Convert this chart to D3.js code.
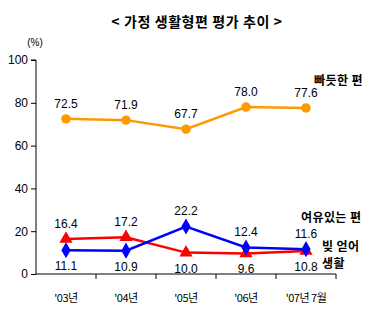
<!DOCTYPE html>
<html><head><meta charset="utf-8">
<script src="https://cdn.jsdelivr.net/npm/d3@7"></script>
<style>body{margin:0;background:#fff}svg{display:block}text{font-family:"Liberation Sans",Arial,sans-serif}</style>
</head><body><svg id="c" width="391" height="322"></svg>
<script>
const categories = ["'03년", "'04년", "'05년", "'06년", "'07년 7월"];
const tight = [72.5, 71.9, 67.7, 78.0, 77.6];      // 빠듯한 편
const spare = [11.1, 10.9, 22.2, 12.4, 11.6];      // 여유있는 편
const debt  = [16.4, 17.2, 10.0, 9.6, 10.8];       // 빚 얻어 생활
const yTicks = [0, 20, 40, 60, 80, 100];

const svg = d3.select("#c");
const x = d3.scaleBand().domain(categories).range([36, 336]);
const y = d3.scaleLinear().domain([0, 100]).range([274, 60]);
const cx = d => x(d) + x.bandwidth() / 2;
const kr = '"Noto Sans CJK KR", sans-serif';

svg.append("text").attr("x", 197).attr("y", 27).attr("text-anchor", "middle")
  .style("font-family", kr).style("font-weight", "bold").style("font-size", "14px")
  .style("letter-spacing", "0.6px")
  .text("< 가정 생활형편 평가 추이 >");
svg.append("text").attr("x", 35).attr("y", 46).attr("text-anchor", "middle")
  .style("font-size", "10px").text("(%)");

// axes
const ya = svg.append("g").attr("transform", "translate(36,0)")
  .call(d3.axisLeft(y).tickValues(yTicks).tickSize(5).tickPadding(3));
ya.select(".domain").attr("d", `M-5,${y(100)}H0V${y(0)}`);
const xa = svg.append("g").attr("transform", `translate(0,${y(0)})`)
  .call(d3.axisBottom(x).tickSize(0).tickFormat(""));
xa.selectAll(".tick").remove();
xa.select(".domain").attr("d", `M36,0H${x.range()[1]}V5`);
svg.append("g").selectAll("line").data(categories.slice(1)).join("line")
  .attr("x1", d => x(d)).attr("x2", d => x(d)).attr("y1", y(0)).attr("y2", y(0) + 5)
  .attr("stroke", "#000");
svg.selectAll(".domain, .tick line").attr("stroke", "#000");
ya.selectAll(".tick text").style("font-size", "12px").attr("fill", "#000");

svg.append("g").selectAll("text").data(categories).join("text")
  .attr("x", cx).attr("y", 302).attr("text-anchor", "middle")
  .style("font-family", kr).style("font-size", "11px").style("letter-spacing", "-0.5px")
  .text(d => d);

const line = d3.line().x((d, i) => cx(categories[i])).y(d => y(d));
function series(vals, color, shape, labelPos) {
  svg.append("path").datum(vals).attr("d", line).attr("fill", "none")
    .attr("stroke", color).attr("stroke-width", 2.5);
  svg.append("g").selectAll("path").data(vals).join("path")
    .attr("transform", (d, i) => `translate(${cx(categories[i])},${y(d)})`)
    .attr("d", d3.symbol().type(shape).size(shape === d3.symbolCircle ? 70 : 75))
    .attr("fill", color);
  svg.append("g").selectAll("text").data(vals).join("text")
    .attr("x", (d, i) => cx(categories[i]))
    .attr("y", (d, i) => labelPos[i] === "a" ? y(d) - 11 : y(d) + 20)
    .attr("text-anchor", "middle").style("font-size", "12px")
    .text(d => d.toFixed(1));
}
series(tight, "#FF9900", d3.symbolCircle, ["a","a","a","a","a"]);
series(debt, "#FF0000", d3.symbolTriangle, ["a","a","b","b","b"]);
series(spare, "#0000FF", d3.symbolDiamond, ["b","b","a","a","a"]);

const leg = [["빠듯한 편", 314, 85], ["여유있는 편", 301, 222], ["빚 얻어", 322, 251], ["생활", 322, 268]];
svg.append("g").selectAll("text").data(leg).join("text")
  .attr("x", d => d[1]).attr("y", d => d[2])
  .style("font-family", kr).style("font-weight", "bold").style("font-size", "12px")
  .style("letter-spacing", "0.4px")
  .text(d => d[0]);
</script></body></html>
